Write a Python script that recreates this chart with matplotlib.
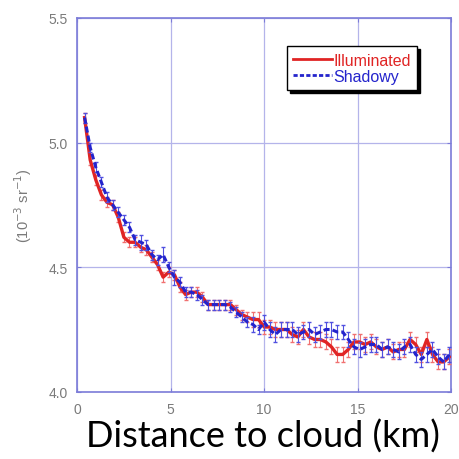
import matplotlib
matplotlib.use("Agg")
import matplotlib.pyplot as plt
from matplotlib.lines import Line2D

# distance to cloud (km)
distance = [0.4, 0.7, 1.0, 1.3, 1.6, 1.9, 2.2, 2.5, 2.8, 3.1, 3.4, 3.7, 4.0, 4.3, 4.6, 4.9,
            5.2, 5.5, 5.8, 6.1, 6.4, 6.7, 7.0, 7.3, 7.6, 7.9, 8.2, 8.5, 8.8, 9.1, 9.4, 9.7,
            10.0, 10.3, 10.6, 10.9, 11.2, 11.5, 11.8, 12.1, 12.4, 12.7, 13.0, 13.3, 13.6,
            13.9, 14.2, 14.5, 14.8, 15.1, 15.4, 15.7, 16.0, 16.3, 16.6, 16.9, 17.2, 17.5,
            17.8, 18.1, 18.4, 18.7, 19.0, 19.3, 19.6, 19.9]

shadowy = [5.10, 4.98, 4.90, 4.84, 4.78, 4.75, 4.72, 4.69, 4.66, 4.61, 4.60, 4.59, 4.55, 4.53,
           4.55, 4.50, 4.46, 4.44, 4.40, 4.40, 4.39, 4.37, 4.35, 4.35, 4.35, 4.35, 4.34, 4.32,
           4.30, 4.28, 4.27, 4.25, 4.28, 4.25, 4.23, 4.25, 4.25, 4.25, 4.23, 4.24, 4.25, 4.23,
           4.24, 4.25, 4.25, 4.24, 4.24, 4.21, 4.18, 4.17, 4.18, 4.19, 4.19, 4.17, 4.18, 4.17,
           4.16, 4.18, 4.19, 4.15, 4.13, 4.15, 4.17, 4.14, 4.12, 4.15]

illuminated = [5.10, 4.93, 4.85, 4.79, 4.76, 4.75, 4.70, 4.62, 4.60, 4.60, 4.58, 4.57, 4.54,
               4.51, 4.46, 4.48, 4.47, 4.42, 4.39, 4.40, 4.40, 4.38, 4.35, 4.35, 4.35, 4.35,
               4.35, 4.33, 4.31, 4.30, 4.29, 4.29, 4.26, 4.26, 4.25, 4.25, 4.25, 4.23, 4.22,
               4.25, 4.22, 4.21, 4.21, 4.20, 4.18, 4.15, 4.15, 4.17, 4.20, 4.20, 4.19, 4.20,
               4.18, 4.17, 4.18, 4.16, 4.17, 4.17, 4.21, 4.19, 4.15, 4.21, 4.15, 4.12, 4.12, 4.14]

err_shadowy = [0.02, 0.02, 0.02, 0.02, 0.02, 0.02, 0.02, 0.02, 0.02, 0.02, 0.03, 0.02, 0.02,
               0.02, 0.03, 0.02, 0.03, 0.02, 0.02, 0.02, 0.02, 0.02, 0.02, 0.02, 0.02, 0.02,
               0.02, 0.02, 0.02, 0.02, 0.03, 0.02, 0.03, 0.03, 0.03, 0.03, 0.03, 0.03, 0.03,
               0.03, 0.03, 0.03, 0.03, 0.03, 0.03, 0.03, 0.03, 0.03, 0.03, 0.03, 0.03, 0.03,
               0.03, 0.03, 0.03, 0.03, 0.03, 0.03, 0.03, 0.03, 0.03, 0.03, 0.03, 0.03, 0.03, 0.03]

err_illuminated = [0.02, 0.02, 0.02, 0.02, 0.02, 0.02, 0.02, 0.02, 0.02, 0.02, 0.02, 0.02,
                   0.02, 0.02, 0.02, 0.02, 0.02, 0.02, 0.02, 0.02, 0.02, 0.02, 0.02, 0.02,
                   0.02, 0.02, 0.02, 0.02, 0.02, 0.02, 0.03, 0.03, 0.03, 0.03, 0.03, 0.03,
                   0.03, 0.03, 0.03, 0.03, 0.03, 0.03, 0.03, 0.03, 0.03, 0.03, 0.03, 0.03,
                   0.03, 0.03, 0.03, 0.03, 0.03, 0.03, 0.03, 0.03, 0.03, 0.03, 0.03, 0.03,
                   0.03, 0.03, 0.03, 0.03, 0.03, 0.03]

frame_col = "#7c7cd8"
grid_col = "#b4b4ea"
red = "#e02424"
blue = "#2424cc"
plt.rcParams["font.family"] = ["Liberation Sans", "DejaVu Sans"]

fig = plt.figure(figsize=(4.59, 4.60), dpi=100)
ax = fig.add_axes([0.168, 0.146, 0.815, 0.813])

ax.errorbar(distance, illuminated, yerr=err_illuminated, color=red, lw=2.4,
            elinewidth=0.8, capsize=1.5, ecolor="#f07070", zorder=3)
ax.errorbar(distance, shadowy, yerr=err_shadowy, color=blue, lw=2.2, ls=(0, (2, 1)),
            elinewidth=0.8, capsize=1.5, ecolor="#5050e0", zorder=4)

ax.set_xlim(0, 20)
ax.set_ylim(4.0, 5.5)
ax.set_xticks([0, 5, 10, 15, 20])
ax.set_yticks([4.0, 4.5, 5.0, 5.5])
ax.set_yticklabels(["4.0", "4.5", "5.0", "5.5"])
ax.grid(True, color=grid_col, lw=0.9)
ax.set_axisbelow(True)
for s in ax.spines.values():
    s.set_color(frame_col)
    s.set_linewidth(1.2)
ax.tick_params(direction="in", length=3, color=frame_col, labelcolor="#7a7a7a",
               labelsize=10, top=True, right=True, pad=7)

ax.set_ylabel("(10$^{-3}$ sr$^{-1}$)", color="#7a7a7a", fontsize=10.5, labelpad=10)

handles = [Line2D([], [], color=red, lw=2),
           Line2D([], [], color=blue, lw=2, ls=(0, (1.5, 0.8)))]
leg = ax.legend(handles, ["Illuminated", "Shadowy"], loc="upper right",
                bbox_to_anchor=(0.93, 0.945), fontsize=11.5,
                handlelength=2.4, handletextpad=0.1, borderpad=0.4, labelspacing=0.05,
                fancybox=False, framealpha=1, edgecolor="black",
                shadow={"color": "black", "alpha": 1})
for t, c in zip(leg.get_texts(), [red, blue]):
    t.set_color(c)

fig.text(0.572, 0.05, "Distance to cloud (km)", ha="center", va="center",
         fontsize=26, family="Lato", color="black")

fig.savefig("out.png", dpi=100)
